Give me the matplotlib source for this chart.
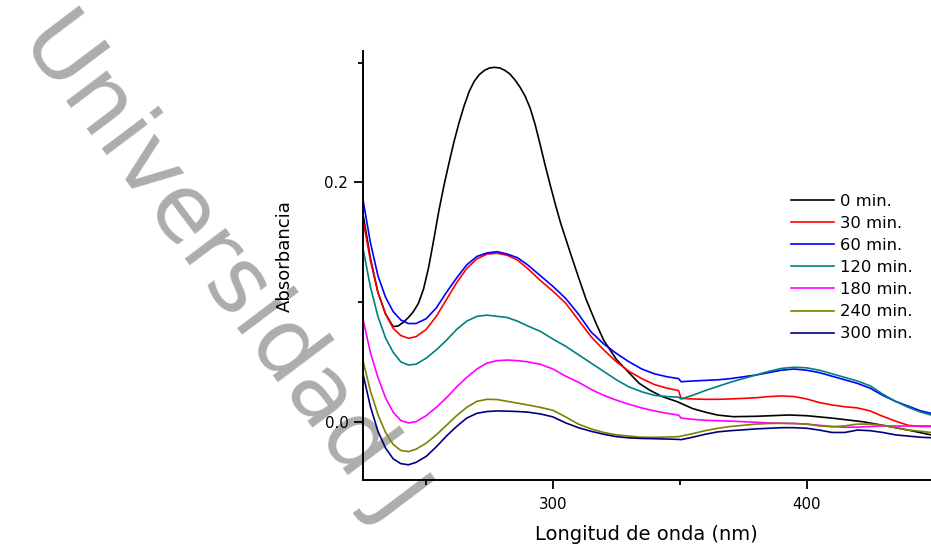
import matplotlib
matplotlib.use("Agg")
import matplotlib.pyplot as plt
from matplotlib.ticker import FixedLocator

# Wavelength grid (nm) shared by the irradiated samples
wavelength = [225, 228, 231, 234, 237, 240, 243, 246, 250, 254, 258, 262, 266, 270,
              274, 278, 282, 286, 290, 295, 300, 305, 310, 315, 320, 325, 330, 335,
              340, 345, 349.5, 350.5, 355, 360, 365, 370, 375, 380, 385, 390, 395,
              400, 405, 410, 415, 420, 425, 430, 435, 440, 445, 449]

# 0 min spectrum has its own (denser) wavelength sampling around the main band
wavelength_0 = [225, 228, 231, 234, 237, 239, 241, 243, 245, 247, 249, 251, 253, 255,
                257, 259, 261, 263, 265, 267, 269, 271, 273, 275, 277, 279, 281, 283,
                285, 287, 289, 291, 293, 295, 297, 299, 301, 303, 305, 307, 310, 313,
                317, 320, 325, 329, 334, 338, 343, 349, 355, 360, 365, 371, 380, 393,
                400, 410, 422, 430, 440, 449]
abs_0 = [0.175, 0.137, 0.108, 0.090, 0.0794, 0.080, 0.083, 0.087, 0.092, 0.099, 0.111,
         0.129, 0.152, 0.176, 0.197, 0.216, 0.234, 0.250, 0.264, 0.276, 0.2845, 0.290,
         0.2935, 0.2955, 0.296, 0.2955, 0.2935, 0.2905, 0.2855, 0.2795, 0.272, 0.262,
         0.248, 0.231, 0.2135, 0.197, 0.181, 0.166, 0.153, 0.140, 0.121, 0.1025, 0.082,
         0.068, 0.052, 0.043, 0.032, 0.0265, 0.021, 0.0167, 0.011, 0.008, 0.0055,
         0.0042, 0.0045, 0.0056, 0.005, 0.003, 0.0, -0.003, -0.007, -0.011]

abs_30 = [0.170, 0.135, 0.108, 0.090, 0.078, 0.072, 0.0697, 0.071, 0.077, 0.088, 0.102,
          0.116, 0.128, 0.136, 0.140, 0.1407, 0.139, 0.135, 0.128, 0.118, 0.109, 0.099,
          0.085, 0.071, 0.060, 0.050, 0.042, 0.036, 0.031, 0.028, 0.026, 0.0195, 0.019,
          0.0187, 0.0187, 0.019, 0.0195, 0.020, 0.021, 0.0215, 0.021, 0.019, 0.016,
          0.014, 0.0125, 0.0115, 0.009, 0.0045, 0.0005, -0.003, -0.004, -0.004]

abs_60 = [0.187, 0.150, 0.122, 0.104, 0.092, 0.085, 0.082, 0.082, 0.086, 0.095, 0.108,
          0.120, 0.131, 0.138, 0.141, 0.142, 0.140, 0.137, 0.131, 0.122, 0.113, 0.103,
          0.090, 0.075, 0.065, 0.057, 0.050, 0.044, 0.040, 0.0375, 0.036, 0.0334, 0.034,
          0.0345, 0.035, 0.036, 0.0375, 0.039, 0.041, 0.043, 0.044, 0.043, 0.041, 0.038,
          0.035, 0.032, 0.028, 0.022, 0.017, 0.013, 0.009, 0.007]

abs_120 = [0.146, 0.113, 0.088, 0.070, 0.058, 0.050, 0.0474, 0.048, 0.053, 0.060, 0.068,
           0.077, 0.084, 0.088, 0.089, 0.088, 0.087, 0.084, 0.080, 0.0755, 0.069, 0.063,
           0.056, 0.049, 0.042, 0.035, 0.029, 0.025, 0.022, 0.021, 0.0205, 0.019, 0.022,
           0.026, 0.0295, 0.033, 0.036, 0.039, 0.042, 0.0445, 0.0455, 0.045, 0.043,
           0.040, 0.037, 0.034, 0.030, 0.023, 0.017, 0.012, 0.008, 0.0056]

abs_180 = [0.087, 0.058, 0.037, 0.020, 0.008, 0.001, -0.001, 0.000, 0.005, 0.012, 0.020,
           0.029, 0.037, 0.044, 0.049, 0.051, 0.0515, 0.051, 0.050, 0.048, 0.044, 0.038,
           0.033, 0.027, 0.022, 0.018, 0.0145, 0.0115, 0.009, 0.007, 0.0055, 0.003,
           0.002, 0.0012, 0.0008, 0.0005, 0.0, -0.0005, -0.001, -0.0013, -0.0015, -0.002,
           -0.003, -0.004, -0.0047, -0.0045, -0.004, -0.0036, -0.0036, -0.0036, -0.0036,
           -0.0036]

abs_240 = [0.052, 0.026, 0.006, -0.009, -0.019, -0.024, -0.025, -0.023, -0.018, -0.011,
           -0.003, 0.005, 0.012, 0.017, 0.0187, 0.0185, 0.017, 0.0155, 0.014, 0.012,
           0.0095, 0.004, -0.002, -0.006, -0.009, -0.011, -0.012, -0.013, -0.013,
           -0.0128, -0.0125, -0.012, -0.010, -0.0075, -0.0055, -0.004, -0.003, -0.002,
           -0.0015, -0.0013, -0.0015, -0.002, -0.0035, -0.0042, -0.0035, -0.002, -0.002,
           -0.003, -0.005, -0.007, -0.008, -0.009]

abs_300 = [0.041, 0.013, -0.008, -0.022, -0.031, -0.035, -0.036, -0.034, -0.029, -0.021,
           -0.012, -0.004, 0.003, 0.007, 0.0085, 0.009, 0.0088, 0.0085, 0.008, 0.0065,
           0.004, -0.001, -0.005, -0.008, -0.0105, -0.0125, -0.0135, -0.014, -0.0142,
           -0.0145, -0.0148, -0.015, -0.013, -0.0105, -0.0085, -0.0075, -0.0068, -0.006,
           -0.0055, -0.005, -0.005, -0.0055, -0.007, -0.009, -0.009, -0.007, -0.0075,
           -0.009, -0.011, -0.012, -0.013, -0.0134]

labels = ["0 min.", "30 min.", "60 min.", "120 min.", "180 min.", "240 min.", "300 min."]
colors = ["#000000", "#ff0000", "#0000ff", "#008080", "#ff00ff", "#808000", "#000080"]

x_major = [300, 400]
x_minor = [250, 350, 450]
y_major = [0.0, 0.2]
y_minor = [0.1, 0.3]

W, H = 931, 546
fig = plt.figure(figsize=(W / 100, H / 100), dpi=100)
fig.patch.set_facecolor("white")

# Faint diagonal watermark behind the plot
fig.text(40 / W, 1 - 24 / H, "Universidad J", fontsize=67, color="#adadad",
         rotation=-53, rotation_mode="anchor", ha="left", va="center", zorder=-5)

left, right, top, bottom = 362.7, 931, 50.7, 480
ax = fig.add_axes([left / W, 1 - bottom / H, (right - left) / W, (bottom - top) / H])
ax.patch.set_alpha(0)

series = [(wavelength_0, abs_0), (wavelength, abs_30), (wavelength, abs_60),
          (wavelength, abs_120), (wavelength, abs_180), (wavelength, abs_240),
          (wavelength, abs_300)]
for (x, y), c, lab in zip(series, colors, labels):
    ax.plot(x, y, color=c, lw=1.2, label=lab, solid_joinstyle="round")

ax.set_xlim(225, 449)
ax.set_ylim(-0.0487, 0.3099)

for s in ["top", "right"]:
    ax.spines[s].set_visible(False)
for s in ["left", "bottom"]:
    ax.spines[s].set_linewidth(1.4)

ax.xaxis.set_major_locator(FixedLocator(x_major))
ax.xaxis.set_minor_locator(FixedLocator(x_minor))
ax.yaxis.set_major_locator(FixedLocator(y_major))
ax.yaxis.set_minor_locator(FixedLocator(y_minor))
ax.set_xticklabels([f"{v:d}" for v in x_major])
ax.set_yticklabels([f"{v:.1f}" for v in y_major])
ax.tick_params(which="major", direction="out", length=6.5, width=1.3, labelsize=10.8)
ax.tick_params(which="minor", direction="out", length=3.3, width=1.3)
ax.tick_params(axis="x", which="major", pad=5.5)
ax.tick_params(axis="y", which="major", pad=3.9)

ax.set_xlabel("Longitud de onda (nm)", fontsize=14)
ax.xaxis.label.set_va("center")
ax.xaxis.set_label_coords(0.5, (11 - 66) / (bottom - top))
ax.set_ylabel("Absorbancia", fontsize=13)
ax.yaxis.label.set_va("center")
ax.yaxis.set_label_coords((285 - left) / (right - left), (290 - 66) / (bottom - top))

leg_fs = 11.8
fs_px = leg_fs * 100 / 72
ax.legend(loc="upper left", bbox_to_anchor=(790.7 / W, 1 - 194.0 / H),
          bbox_transform=fig.transFigure, frameon=False, fontsize=leg_fs,
          borderpad=0, borderaxespad=0, handlelength=43 / fs_px,
          handletextpad=6 / fs_px, labelspacing=0.43)

fig.savefig("out.png", dpi=100, facecolor="white")
